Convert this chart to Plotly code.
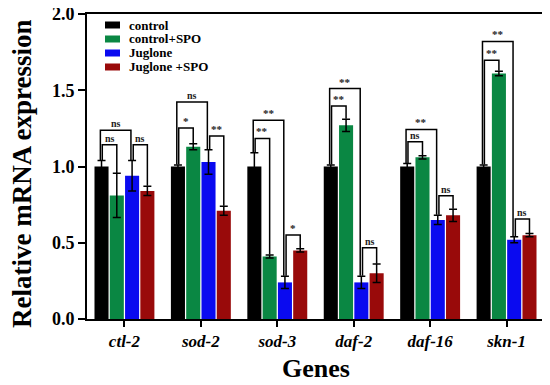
import plotly.graph_objects as go

genes = ["ctl-2", "sod-2", "sod-3", "daf-2", "daf-16", "skn-1"]
groups = ["control", "control+SPO", "Juglone", "Juglone +SPO"]
colors = ["#000000", "#0a8743", "#0a0af0", "#990a0a"]

control = [1.00, 1.00, 1.00, 1.00, 1.00, 1.00]
control_err = [0.04, 0.01, 0.09, 0.01, 0.02, 0.01]
control_spo = [0.81, 1.13, 0.41, 1.27, 1.06, 1.61]
control_spo_err = [0.145, 0.02, 0.01, 0.04, 0.01, 0.015]
juglone = [0.94, 1.03, 0.24, 0.24, 0.65, 0.52]
juglone_err = [0.10, 0.08, 0.04, 0.04, 0.03, 0.02]
juglone_spo = [0.84, 0.71, 0.45, 0.30, 0.68, 0.55]
juglone_spo_err = [0.03, 0.03, 0.01, 0.06, 0.04, 0.01]

values = [control, control_spo, juglone, juglone_spo]
errors = [control_err, control_spo_err, juglone_err, juglone_spo_err]

# significance brackets: (gene index, bar a, bar b, bracket height, label)
brackets = [
    (0, 0, 1, 1.143, "ns"), (0, 0, 2, 1.237, "ns"), (0, 2, 3, 1.143, "ns"),
    (1, 0, 1, 1.252, "*"), (1, 0, 2, 1.423, "ns"), (1, 2, 3, 1.200, "**"),
    (2, 0, 1, 1.184, "**"), (2, 0, 2, 1.303, "**"), (2, 2, 3, 0.551, "*"),
    (3, 0, 1, 1.397, "**"), (3, 0, 2, 1.511, "**"), (3, 2, 3, 0.467, "ns"),
    (4, 0, 1, 1.162, "ns"), (4, 0, 2, 1.243, "**"), (4, 2, 3, 0.809, "ns"),
    (5, 0, 1, 1.697, "**"), (5, 0, 2, 1.820, "**"), (5, 2, 3, 0.656, "ns"),
]

xpos = list(range(len(genes)))
bargap = 0.2
slot = (1 - bargap) / len(groups)
offsets = [(-(len(groups) - 1) / 2 + k) * slot for k in range(len(groups))]

SERIF = "Liberation Serif, Times New Roman, serif"

# page has an 8px body margin: figure is sized so it fits the 550x385 window
W, H = 542, 377
ML, MR, MT, MB = 79, 6, 6, 66
PW, PH = W - ML - MR, H - MT - MB

fig = go.Figure()
for k, name in enumerate(groups):
    fig.add_trace(go.Bar(
        x=xpos, y=values[k], name=name,
        marker=dict(color=colors[k], line=dict(width=0)),
        error_y=dict(type="data", array=errors[k], color="black",
                     thickness=1.5, width=4),
        showlegend=False,
    ))

bx, by = [], []
ann = []
for g, a, b, top, lab in brackets:
    if (a, b) == (0, 1):
        da, db = 0.01, 0.0
    elif (a, b) == (0, 2):
        da, db = -0.015, -0.015
    else:
        da, db = 0.015, 0.0
    xa = g + offsets[a] + da
    xb = g + offsets[b] + db
    ya = values[a][g] + errors[a][g] + 0.003
    yb = values[b][g] + errors[b][g] + 0.003
    bx += [xa, xa, xb, xb, None]
    by += [ya, top, top, yb, None]
    ann.append(dict(x=(xa + xb) / 2, y=top, xref="x", yref="y", text=lab,
                    showarrow=False, yanchor="bottom", yshift=-1,
                    font=dict(family=SERIF, size=10 if lab == "ns" else 11,
                              color="#222", weight="bold")))

fig.add_trace(go.Scatter(x=bx, y=by, mode="lines",
                         line=dict(color="black", width=1.5),
                         showlegend=False, hoverinfo="skip"))

# manual legend (pixel positions inside the figure)
row_px = [17, 31, 45, 59]
for k, name in enumerate(groups):
    yc = (MT + PH - row_px[k]) / PH
    fig.add_shape(type="rect", xref="paper", yref="paper",
                  x0=(97 - ML) / PW, x1=(112 - ML) / PW,
                  y0=yc - 3.5 / PH, y1=yc + 3.5 / PH,
                  fillcolor=colors[k], line=dict(width=0))
    ann.append(dict(x=(119 - ML) / PW, y=yc, xref="paper", yref="paper",
                    text=name, showarrow=False, xanchor="left", yanchor="middle",
                    font=dict(family=SERIF, size=13, color="black", weight="bold")))

# axis titles
ann.append(dict(x=(14 - ML) / PW, y=(MT + PH - 166) / PH, xref="paper", yref="paper",
                text="Relative mRNA expression", textangle=-90, showarrow=False,
                xanchor="center", yanchor="middle",
                font=dict(family=SERIF, size=27, color="black", weight="bold")))
ann.append(dict(x=0.5, y=(MT + PH - 360) / PH, xref="paper", yref="paper",
                text="Genes", showarrow=False, xanchor="center", yanchor="middle",
                font=dict(family=SERIF, size=26, color="black", weight="bold")))

fig.update_layout(
    width=W, height=H,
    margin=dict(l=ML, r=MR, t=MT, b=MB),
    paper_bgcolor="white", plot_bgcolor="white",
    barmode="group", bargap=bargap, bargroupgap=0.08,
    annotations=ann,
    font=dict(family=SERIF, color="black"),
)
fig.update_xaxes(
    range=[-0.49, 5.49], tickvals=xpos, ticktext=genes,
    tickfont=dict(family=SERIF, size=17, weight="bold", style="italic", color="black"),
    ticks="outside", ticklen=6, tickwidth=2, tickcolor="black",
    showline=True, linewidth=2, linecolor="black", mirror=True,
    showgrid=False, zeroline=False, automargin=False,
)
fig.update_yaxes(
    range=[0, 2.0], tickvals=[0, 0.5, 1.0, 1.5, 2.0],
    ticktext=["0.0", "0.5", "1.0", "1.5", "2.0"],
    tickfont=dict(family=SERIF, size=18, weight="bold", color="black"),
    ticks="outside", ticklen=7, tickwidth=2, tickcolor="black",
    showline=True, linewidth=2, linecolor="black", mirror=True,
    showgrid=False, zeroline=False, automargin=False,
    ticklabeloverflow="allow",
)

fig.write_html("out.html")
